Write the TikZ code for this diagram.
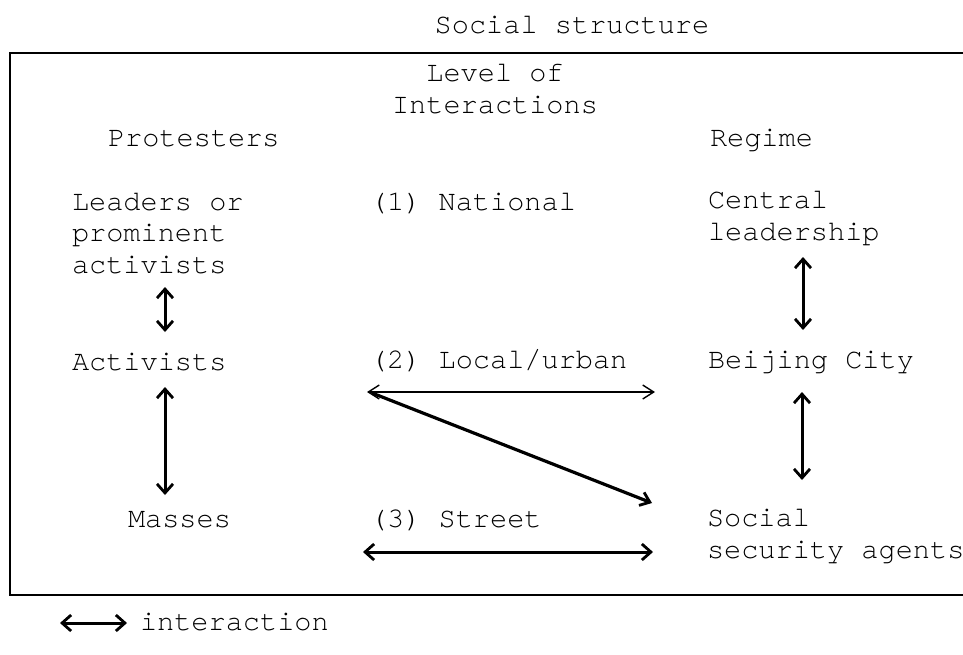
\documentclass[tikz,border=0pt]{standalone}
\usepackage{fontspec}
\setmainfont{TeX Gyre Cursor}
\usetikzlibrary{arrows.meta,calc}
\tikzset{
  txt/.style={inner sep=0pt, outer sep=0pt, anchor=base west, font=\fontsize{14.3}{15.75}\selectfont},
  boxline/.style={line width=1.1pt},
  thickarr/.style={line width=1.5pt, {Straight Barb[length=4.5pt,width=8pt,line width=1.4pt]}-{Straight Barb[length=4.5pt,width=8pt,line width=1.4pt]}},
  thinarr/.style={line width=0.7pt, {Straight Barb[length=5.5pt,width=7pt]}-{Straight Barb[length=5.5pt,width=7pt]}},
  diagarr/.style={line width=1.6pt, -{Straight Barb[length=4.5pt,width=7pt,line width=1.4pt]}},
}
\begin{document}
\fontsize{14.3}{15.75}\selectfont
\begin{tikzpicture}[x=0.5pt,y=-0.5pt]
\useasboundingbox (0,0) rectangle (963,654);
% frame (open on the right)
\draw[boxline] (963,53) -- (10,53) -- (10,595) -- (963,595);
% titles
\node[txt, anchor=base] (title) at (572,33) {Social structure};
\node[txt, anchor=base, align=center] (level) at (495,113) {Level of\\Interactions};
\node[txt] (prot) at (108,146) {Protesters};
\node[txt] (reg) at (710,146) {Regime};
% protesters column
\node[txt, align=left] (lead) at (72,273) {Leaders or\\prominent\\activists};
\node[txt] (act) at (72,370) {Activists};
\node[txt] (mass) at (128,527) {Masses};
% levels column
\node[txt] (nat) at (370,210) {(1) National};
\node[txt] (loc) at (370,368) {(2) Local/urban};
\node[txt] (str) at (370,527) {(3) Street};
% regime column
\node[txt, align=left] (cent) at (708,240) {Central\\leadership};
\node[txt] (bej) at (708,368) {Beijing City};
\node[txt, align=left] (soc) at (707,558) {Social\\security agents};
% legend
\node[txt] (legt) at (140,630) {interaction};
% connectors
\draw[thickarr] ($(lead.base west)+(93,14)$) -- ($(act.base west)+(93,-38)$);
\draw[thickarr] ($(act.base west)+(93,17)$) -- ($(mass.base west)+(37,-32)$);
\draw[thickarr] ($(cent.base west)+(95,17)$) -- ($(bej.base west)+(95,-38)$);
\draw[thickarr] ($(bej.base west)+(94,24)$) -- ($(soc.base west)+(95,-78)$);
\draw[thinarr] ($(loc.base west)+(-3,24)$) -- ($(bej.base west)+(-53,24)$);
\draw[diagarr] ($(loc.base west)+(2,25)$) -- ($(soc.base west)+(-55,-55)$);
\draw[thickarr] ($(str.base west)+(-7,25)$) -- ($(soc.base west)+(-54,-6)$);
\draw[thickarr] ($(legt.base west)+(-80,-7)$) -- ($(legt.base west)+(-13,-7)$);
\end{tikzpicture}
\end{document}
